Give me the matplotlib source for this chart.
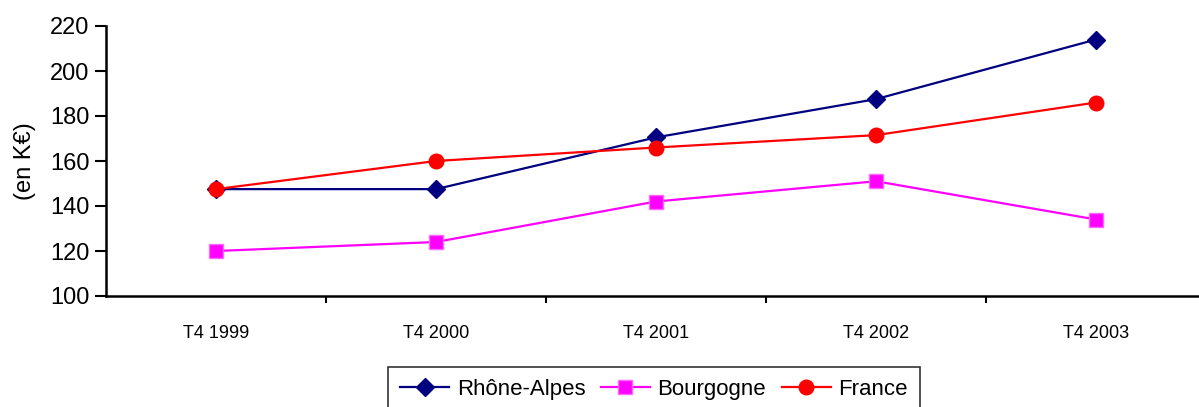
import matplotlib
matplotlib.use("Agg")
import matplotlib.pyplot as plt
from matplotlib import font_manager

categories = ["T4 1999", "T4 2000", "T4 2001", "T4 2002", "T4 2003"]
rhone_alpes = [147.5, 147.5, 170.5, 187.5, 214.0]
bourgogne = [120.0, 124.0, 142.0, 151.0, 134.0]
france = [147.5, 160.0, 166.0, 171.5, 186.0]
yticks = [100, 120, 140, 160, 180, 200, 220]

names = {f.name for f in font_manager.fontManager.ttflist}
fam = [f for f in ["Liberation Sans Narrow", "Liberation Sans", "DejaVu Sans"] if f in names]
plt.rcParams['font.family'] = fam

fig = plt.figure(figsize=(11.99, 4.07), dpi=100)
ax = fig.add_axes([106/1199, 1-296/407, 1100/1199, 270/407])

x = list(range(len(categories)))
ax.plot(x, rhone_alpes, color="#000080", lw=1.6, marker="D", ms=9, mfc="#000080", mec="#000080", label="Rhône-Alpes", zorder=3)
ax.plot(x, bourgogne, color="#FF00FF", lw=1.6, marker="s", ms=10, mfc="#FF00FF", mec="#FF66FF", label="Bourgogne", zorder=3)
ax.plot(x, france, color="#FF0000", lw=1.6, marker="o", ms=10.5, mfc="#FF0000", mec="#FF0000", label="France", zorder=4)

ax.set_xlim(-0.5, len(categories)-0.5)
ax.set_ylim(100, 220)
ax.set_yticks(yticks)
ax.set_yticklabels([str(v) for v in yticks], fontsize=17)
ax.set_xticks([i + 0.5 for i in range(len(categories)-1)])
ax.set_xticklabels([])
ax.set_xticks(x, minor=True)
ax.set_xticklabels(categories, minor=True, fontsize=13)
ax.tick_params(axis="x", which="minor", length=0, pad=21)
ax.tick_params(axis="x", which="major", length=5, width=1.5, direction="out")
ax.tick_params(axis="y", length=8, width=1.5, direction="out", pad=4)

for s in ["top", "right"]:
    ax.spines[s].set_visible(False)
for s in ["left", "bottom"]:
    ax.spines[s].set_linewidth(1.8)

ax.set_ylabel("(en K€)", fontsize=17)
ax.yaxis.set_label_coords((36-106)/1100, (296-161)/270)

leg = ax.legend(loc="upper center", bbox_to_anchor=(654/1199, 1-367/407), bbox_transform=fig.transFigure,
                ncol=3, fontsize=16, frameon=True, fancybox=False, edgecolor="black",
                handlelength=2.2, columnspacing=0.7, handletextpad=0.35, borderpad=0.55,
                borderaxespad=0)
leg.get_frame().set_linewidth(1.2)

fig.savefig("out.png", dpi=100)
